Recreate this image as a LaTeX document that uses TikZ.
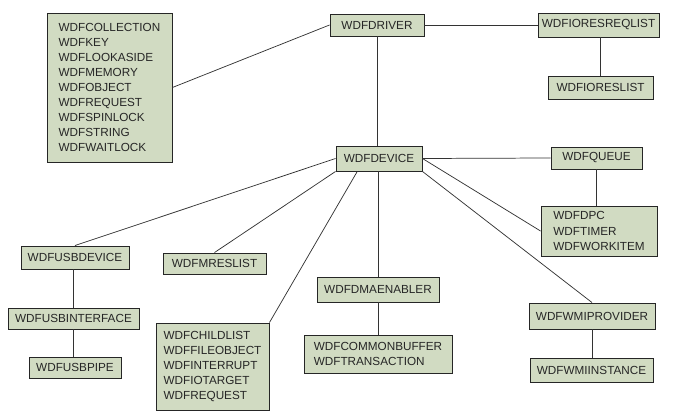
\documentclass[tikz,border=0pt]{standalone}
\usepackage{fontspec}
\setmainfont{Liberation Sans}
\usetikzlibrary{calc}
\definecolor{boxfill}{RGB}{209,219,194}
\begin{document}
\begin{tikzpicture}[x=0.75pt,y=-0.75pt,
  box/.style={draw=black!85, line width=0.7pt, fill=boxfill, inner sep=0pt,
    font=\fontsize{8.8}{11.3}\selectfont, align=left, text=black!85},
  sz/.style 2 args={minimum width={#1*0.75pt}, minimum height={#2*0.75pt}},
  link/.style={draw=black!80, line width=0.55pt}]
\useasboundingbox (0,0) rectangle (679,420);
% nodes
\node[box,sz={125}{149}] (big) at (109.5,87.5) {WDFCOLLECTION\\WDFKEY\\WDFLOOKASIDE\\WDFMEMORY\\WDFOBJECT\\WDFREQUEST\\WDFSPINLOCK\\WDFSTRING\\WDFWAITLOCK};
\node[box,sz={94}{22}] (driver) at (377,25) {WDFDRIVER};
\node[box,sz={121}{24}] (ioresreq) at (598.5,25) {WDFIORESREQLIST};
\node[box,sz={105}{23}] (ioreslist) at (600.5,87.5) {WDFIORESLIST};
\node[box,sz={86}{25}] (device) at (379,158.5) {WDFDEVICE};
\node[box,sz={91}{22}] (queue) at (596.5,158) {WDFQUEUE};
\node[box,sz={116}{50}] (dpc) at (599,231) {WDFDPC\\WDFTIMER\\WDFWORKITEM};
\node[box,sz={122}{25}] (dma) at (378,289.5) {WDFDMAENABLER};
\node[box,sz={148}{38}] (common) at (378,354) {WDFCOMMONBUFFER\\WDFTRANSACTION};
\node[box,sz={126}{26}] (wmiprov) at (592,316) {WDFWMIPROVIDER};
\node[box,sz={123}{24}] (wmiinst) at (591.5,370) {WDFWMIINSTANCE};
\node[box,sz={108}{23}] (usbdev) at (75,257.5) {WDFUSBDEVICE};
\node[box,sz={103}{21}] (mres) at (214.5,263.5) {WDFMRESLIST};
\node[box,sz={131}{21}] (usbif) at (73.5,318.5) {WDFUSBINTERFACE};
\node[box,sz={92}{21}] (usbpipe) at (75,367.5) {WDFUSBPIPE};
\node[box,sz={113}{87}] (child) at (212.5,366.5) {WDFCHILDLIST\\WDFFILEOBJECT\\WDFINTERRUPT\\WDFIOTARGET\\WDFREQUEST};
% connectors
\draw[link] (big.east) -- (driver.west);
\draw[link] (driver.east) -- (ioresreq.west);
\draw[link] (driver.south) -- (driver.south |- device.north);
\draw[link] (ioreslist.north) -- (ioreslist.north |- ioresreq.south);
\draw[link] (device.east) -- (queue.west);
\draw[link] (queue.south) -- (queue.south |- dpc.north);
\draw[link] (device.east) -- (dpc.west);
\draw[link] (device.south east) -- (wmiprov.north);
\draw[link] (dma.north) -- (dma.north |- device.south);
\draw[link] (dma.south) -- (dma.south |- common.north);
\draw[link] (wmiprov.south) -- (wmiprov.south |- wmiinst.north);
\draw[link] (device.west) -- (usbdev.north);
\draw[link] (device.south west) -- (mres.north);
\draw[link] ($(device.south west)!0.25!(device.south east)$) -- (child.north east);
\draw[link] (usbif.north) -- (usbif.north |- usbdev.south);
\draw[link] (usbif.south) -- (usbif.south |- usbpipe.north);
\end{tikzpicture}
\end{document}
